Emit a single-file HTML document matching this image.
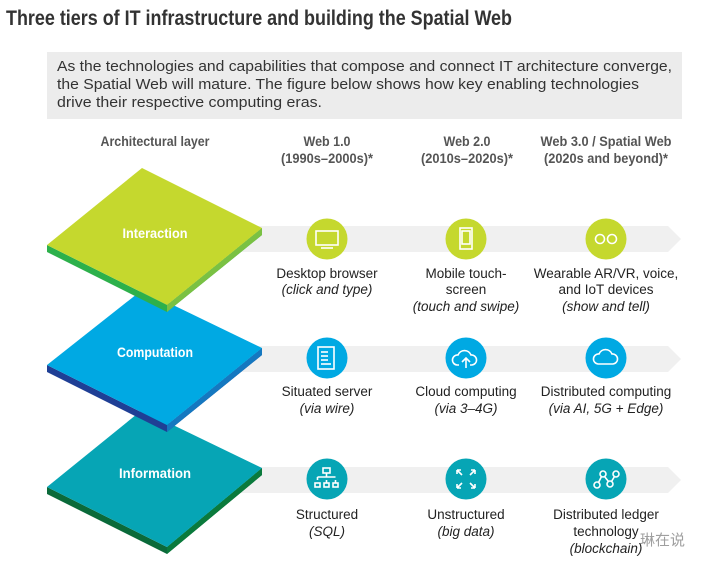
<!DOCTYPE html>
<html><head><meta charset="utf-8"><style>
body{margin:0;background:#fff;width:702px;height:571px;overflow:hidden}
svg{display:block}
.t{font-family:"Liberation Sans",sans-serif;font-weight:bold}
.b{font-family:"Liberation Sans",sans-serif;fill:#222;font-size:13.5px}
.i{font-style:italic}
</style></head><body>
<svg width="702" height="571" viewBox="0 0 702 571">
<text x="6" y="25" class="t" font-size="21" fill="#333" textLength="506" lengthAdjust="spacingAndGlyphs">Three tiers of IT infrastructure and building the Spatial Web</text>
<rect x="47" y="52" width="635" height="67" fill="#ececec"/>
<g font-family="Liberation Sans, sans-serif" font-size="14.5" fill="#333">
<text x="57" y="71" textLength="615" lengthAdjust="spacingAndGlyphs">As the technologies and capabilities that compose and connect IT architecture converge,</text>
<text x="57" y="89" textLength="582" lengthAdjust="spacingAndGlyphs">the Spatial Web will mature. The figure below shows how key enabling technologies</text>
<text x="57" y="107" textLength="265" lengthAdjust="spacingAndGlyphs">drive their respective computing eras.</text>
</g>
<g class="t" font-size="13.5" fill="#555" text-anchor="middle" lengthAdjust="spacingAndGlyphs">
<text x="155" y="146" textLength="109" lengthAdjust="spacingAndGlyphs">Architectural layer</text>
<text x="327" y="146" textLength="47" lengthAdjust="spacingAndGlyphs">Web 1.0</text><text x="327" y="163" textLength="92" lengthAdjust="spacingAndGlyphs">(1990s–2000s)*</text>
<text x="467" y="146" textLength="47" lengthAdjust="spacingAndGlyphs">Web 2.0</text><text x="467" y="163" textLength="92" lengthAdjust="spacingAndGlyphs">(2010s–2020s)*</text>
<text x="606" y="146" textLength="131" lengthAdjust="spacingAndGlyphs">Web 3.0 / Spatial Web</text><text x="606" y="163" textLength="124" lengthAdjust="spacingAndGlyphs">(2020s and beyond)*</text>
</g>
<g fill="#f0f0f0">
<polygon points="240,226 668,226 681,239 668,252 240,252"/>
<polygon points="240,346 668,346 681,359 668,372 240,372"/>
<polygon points="240,467 668,467 681,480 668,493 240,493"/>
</g>
<g>
<polygon points="47,487 167,547 262,468 262,475 167,554 47,494" fill="#0b6a3a"/>
<polygon points="167,547 262,468 262,475 167,554" fill="#0a7a3c"/>
<polygon points="47,487 142,410 262,468 167,547" fill="#06a5b5"/>
<text x="155" y="478" class="t" font-size="14" fill="#fff" text-anchor="middle" textLength="72" lengthAdjust="spacingAndGlyphs">Information</text>
</g>
<g>
<polygon points="47,365 167,425 262,348 262,355 167,432 47,372" fill="#1f3f95"/>
<polygon points="167,425 262,348 262,355 167,432" fill="#1578c0"/>
<polygon points="47,365 142,290 262,348 167,425" fill="#00a9e3"/>
<text x="155" y="357" class="t" font-size="14" fill="#fff" text-anchor="middle" textLength="76" lengthAdjust="spacingAndGlyphs">Computation</text>
</g>
<g>
<polygon points="47,245 167,305 262,228 262,235 167,312 47,252" fill="#2db04b"/>
<polygon points="167,305 262,228 262,235 167,312" fill="#7ac143"/>
<polygon points="47,245 142,168 262,228 167,305" fill="#c5d82e"/>
<text x="155" y="238" class="t" font-size="14" fill="#fff" text-anchor="middle" textLength="65" lengthAdjust="spacingAndGlyphs">Interaction</text>
</g>
<g fill="#c5d82e"><circle cx="327" cy="239" r="20.5"/><circle cx="466" cy="239" r="20.5"/><circle cx="606" cy="239" r="20.5"/></g>
<g fill="#00a9e3"><circle cx="327" cy="358" r="20.5"/><circle cx="466" cy="358" r="20.5"/><circle cx="606" cy="358" r="20.5"/></g>
<g fill="#06a5b5"><circle cx="327" cy="479" r="20.5"/><circle cx="466" cy="479" r="20.5"/><circle cx="606" cy="479" r="20.5"/></g>
<g stroke="#fff" stroke-width="1.6" fill="none">
<rect x="316" y="231" width="22" height="14"/><line x1="321" y1="248" x2="333" y2="248"/>
<rect x="460" y="228" width="12" height="21"/><rect x="462" y="231" width="8" height="13"/>
<circle cx="600" cy="239" r="4.5"/><circle cx="612" cy="239" r="4.5"/>
<rect x="318" y="347" width="16" height="22"/><line x1="321" y1="352" x2="328" y2="352"/><line x1="321" y1="356" x2="328" y2="356"/><line x1="321" y1="360" x2="328" y2="360"/><line x1="321" y1="364" x2="331" y2="364"/>
<path d="M459 365 h-2 a5 5 0 0 1 1-10 a7 7 0 0 1 13 0 a5 5 0 0 1 1 10 h-2"/><path d="M466 368 v-10 m-4 4 l4-4 l4 4"/>
<path d="M598 364 a5 5 0 0 1 1-10 a7 7 0 0 1 13 0 a5 5 0 0 1 1 10 z"/>
<rect x="323" y="468" width="7" height="5"/><path d="M326.5 473 v4 m-9 0 h18 m-18 0 v3 m9 0 v3 m9-3 v3"/><rect x="315" y="483" width="5" height="4"/><rect x="324" y="483" width="5" height="4"/><rect x="333" y="483" width="5" height="4"/>
<path d="M457 470 l5 5 m-5-5 v4 m0-4 h4 M475 470 l-5 5 m5-5 v4 m0-4 h-4 M457 488 l5-5 m-5 5 v-4 m0 4 h4 M475 488 l-5-5 m5 5 v-4 m0 4 h-4"/>
<circle cx="597" cy="485" r="3"/><circle cx="603" cy="474" r="3"/><circle cx="610" cy="484" r="3"/><circle cx="616" cy="474" r="3"/><path d="M598.5 482.5 l3-6 M604.5 476.5 l4 5 M611.5 481.5 l3-5"/>
</g>
<g class="b" text-anchor="middle">
<text x="327" y="278">Desktop browser</text><text x="327" y="294" class="i">(click and type)</text>
<text x="466" y="278">Mobile touch-</text><text x="466" y="294">screen</text><text x="466" y="311" class="i">(touch and swipe)</text>
<text x="606" y="278">Wearable AR/VR, voice,</text><text x="606" y="294">and IoT devices</text><text x="606" y="311" class="i">(show and tell)</text>
<text x="327" y="396">Situated server</text><text x="327" y="413" class="i">(via wire)</text>
<text x="466" y="396">Cloud computing</text><text x="466" y="413" class="i">(via 3–4G)</text>
<text x="606" y="396">Distributed computing</text><text x="606" y="413" class="i">(via AI, 5G + Edge)</text>
<text x="327" y="519">Structured</text><text x="327" y="536" class="i">(SQL)</text>
<text x="466" y="519">Unstructured</text><text x="466" y="536" class="i">(big data)</text>
<text x="606" y="519">Distributed ledger</text><text x="606" y="536">technology</text><text x="606" y="553" class="i">(blockchain)</text>
</g>
<text x="640" y="545" font-family="Liberation Sans, 'Noto Sans CJK SC', sans-serif" font-size="15" fill="#888" opacity="0.8">琳在说</text>
</svg>
</body></html>
